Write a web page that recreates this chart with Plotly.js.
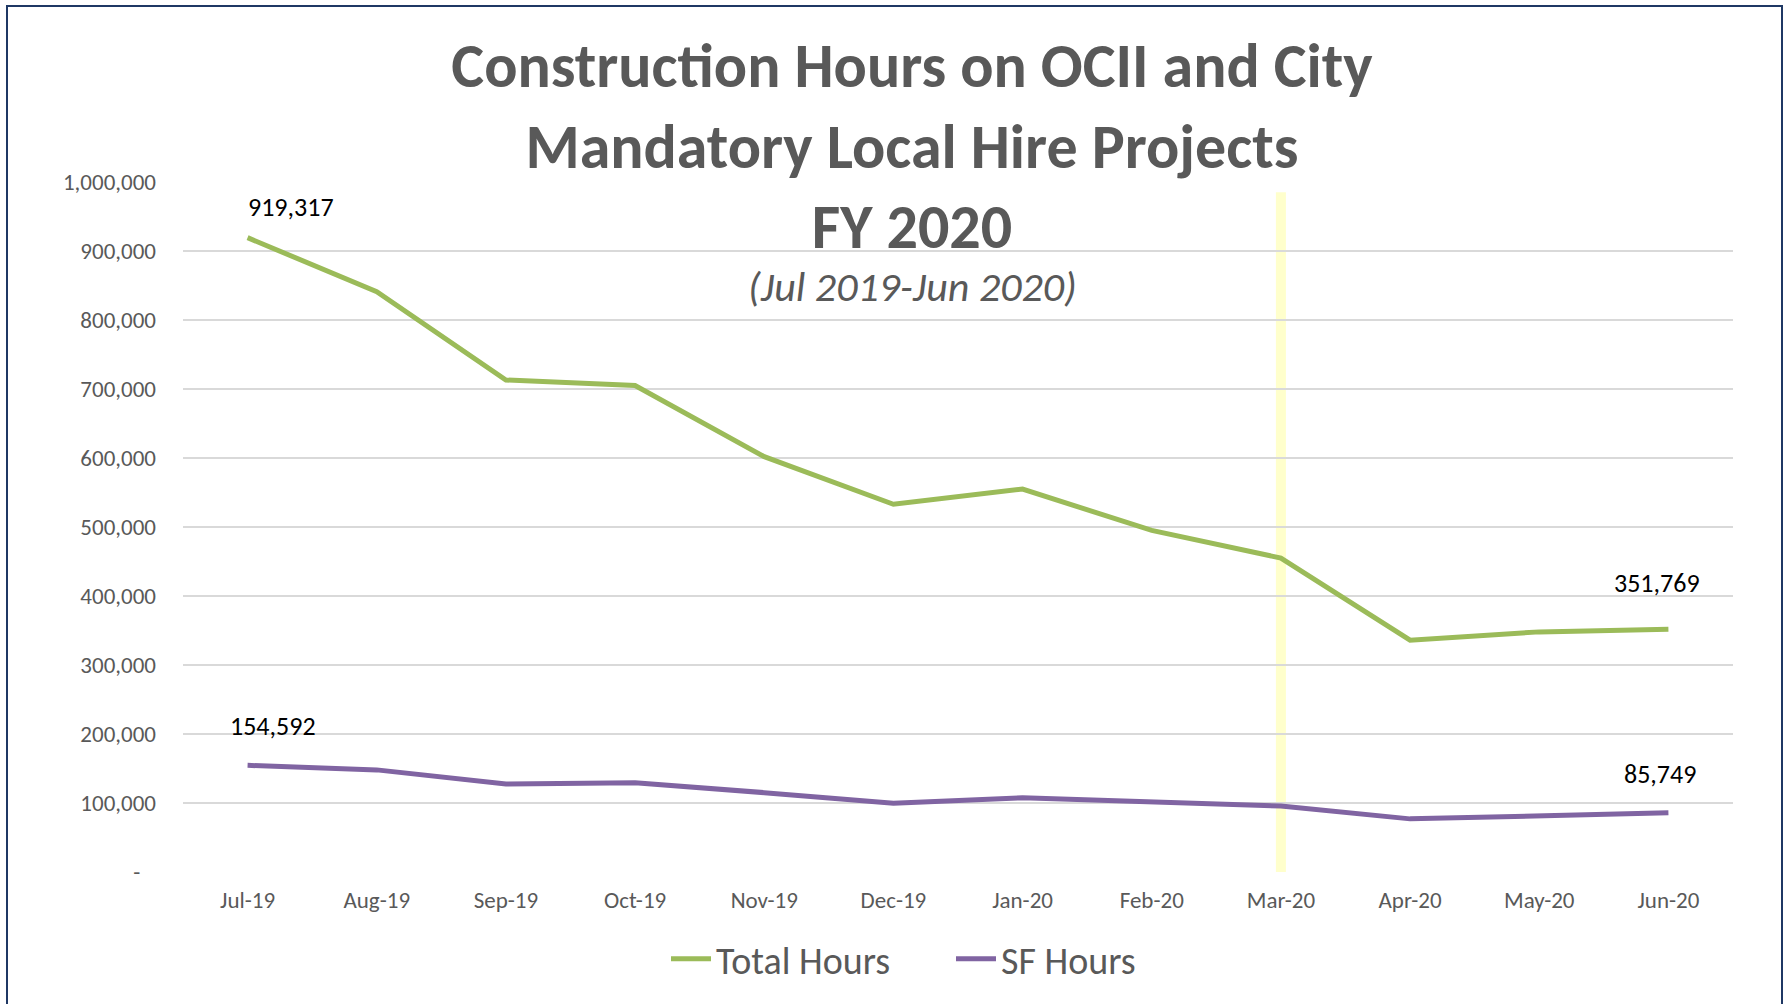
<!DOCTYPE html>
<html>
<head>
<meta charset="utf-8">
<script src="https://cdn.plot.ly/plotly-3.0.1.min.js"></script>
<style>
  html, body { margin: 0; padding: 0; background: #ffffff; }
  #chart { width: 1787px; height: 1004px; }
</style>
</head>
<body>
<div id="chart"></div>
<script>
// ---- data ----
const months = ['Jul-19','Aug-19','Sep-19','Oct-19','Nov-19','Dec-19','Jan-20','Feb-20','Mar-20','Apr-20','May-20','Jun-20'];
const totalHours = [919317, 841000, 713000, 705000, 602000, 533000, 555000, 495000, 455000, 336000, 348000, 351769];
const sfHours = [154592, 148000, 127500, 129500, 115000, 99500, 107500, 101500, 95500, 77000, 81500, 85749];
const yTickVals = [0, 100000, 200000, 300000, 400000, 500000, 600000, 700000, 800000, 900000, 1000000];
const yTickText = ['-\u00a0\u00a0\u00a0', '100,000', '200,000', '300,000', '400,000', '500,000', '600,000', '700,000', '800,000', '900,000', '1,000,000'];
const highlightMonth = 'Mar-20';
const highlightTop = 985000;

const FONT = 'Carlito, Lato, "Open Sans", sans-serif';
const GRAY = '#595959';

const fmt = v => v.toLocaleString('en-US');

const traces = [
  { type: 'scatter', mode: 'lines', name: 'Total Hours', x: months, y: totalHours,
    line: { color: '#9BBB59', width: 5 }, hoverinfo: 'x+y' },
  { type: 'scatter', mode: 'lines', name: 'SF Hours', x: months, y: sfHours,
    line: { color: '#8064A2', width: 5 }, hoverinfo: 'x+y' }
];

const last = months.length - 1;
const annotations = [
  { x: months[0], y: totalHours[0], text: fmt(totalHours[0]), xshift: 43, yshift: 31 },
  { x: months[last], y: totalHours[last], text: fmt(totalHours[last]), xshift: -11, yshift: 46 },
  { x: months[0], y: sfHours[0], text: fmt(sfHours[0]), xshift: 25, yshift: 39 },
  { x: months[last], y: sfHours[last], text: fmt(sfHours[last]), xshift: -8, yshift: 39 }
].map(a => Object.assign(a, {
  xref: 'x', yref: 'y', showarrow: false, xanchor: 'center', yanchor: 'middle',
  font: { family: FONT, size: 26, color: '#000000' }
}));

annotations.push({
  xref: 'paper', yref: 'paper', x: (912 - 183) / 1550, y: (872 - 286) / 690,
  xanchor: 'center', yanchor: 'middle', showarrow: false,
  text: '<i>(Jul 2019-Jun 2020)</i>',
  font: { family: FONT, size: 42, color: GRAY }
});

const layout = {
  width: 1787, height: 1004,
  paper_bgcolor: '#ffffff', plot_bgcolor: '#ffffff',
  margin: { l: 183, r: 54, t: 182, b: 132 },
  font: { family: FONT, color: GRAY },
  title: {
    text: '<b>Construction Hours on OCII and City<br>Mandatory Local Hire Projects<br>FY 2020</b>',
    font: { family: FONT, size: 62, color: GRAY },
    x: 912 / 1787, xanchor: 'center', xref: 'container',
    y: 1 - 87 / 1004, yanchor: 'top', yref: 'container'
  },
  xaxis: {
    type: 'category', range: [-0.5, 11.5],
    showgrid: false, zeroline: false, showline: false, ticks: '',
    tickfont: { family: FONT, size: 23, color: GRAY },
    ticklabelstandoff: 12, fixedrange: true
  },
  yaxis: {
    range: [0, 1000000],
    tickvals: yTickVals, ticktext: yTickText,
    showgrid: true, gridcolor: '#d9d9d9', gridwidth: 2,
    zeroline: false, showline: false, ticks: '',
    tickfont: { family: FONT, size: 23, color: GRAY },
    ticklabelstandoff: 26, fixedrange: true
  },
  showlegend: true,
  legend: {
    orientation: 'h', x: (951 - 183) / 1550, xanchor: 'center',
    y: (872 - 959) / 690, yanchor: 'middle',
    font: { family: FONT, size: 38, color: GRAY },
    itemwidth: 40, entrywidth: 230, bgcolor: 'rgba(0,0,0,0)'
  },
  shapes: [
    { type: 'line', layer: 'below', xref: 'x', yref: 'y',
      x0: highlightMonth, x1: highlightMonth, y0: 0, y1: highlightTop,
      line: { color: '#FFFFCC', width: 10 } },
    { type: 'rect', xref: 'paper', yref: 'paper', layer: 'above',
      x0: (7 - 183) / 1550, x1: (1782 - 183) / 1550,
      y0: (872 - 1010) / 690, y1: (872 - 6) / 690,
      line: { color: '#1F3864', width: 2 }, fillcolor: 'rgba(0,0,0,0)' }
  ],
  annotations: annotations
};

Plotly.newPlot('chart', traces, layout, { displayModeBar: false, staticPlot: true });
</script>
</body>
</html>
